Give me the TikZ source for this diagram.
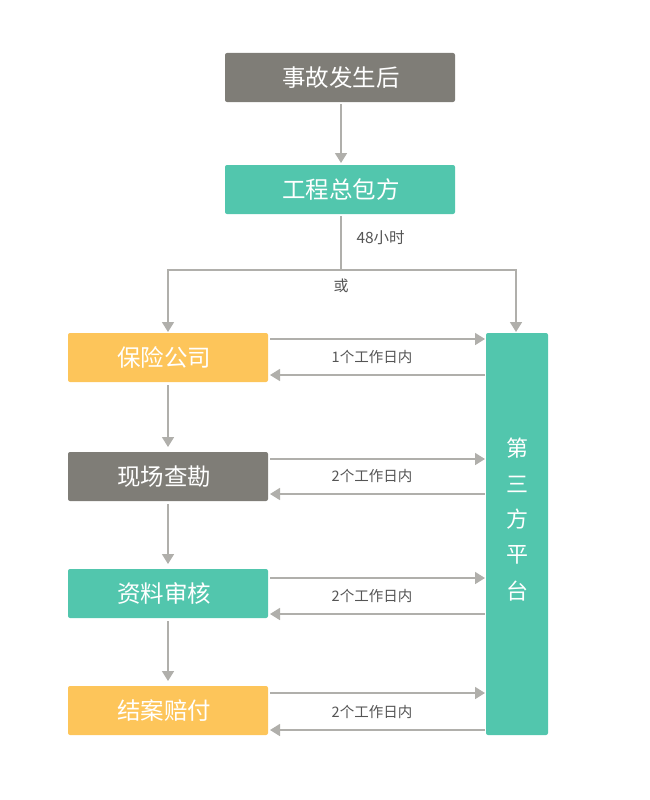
\documentclass[tikz,border=0pt]{standalone}
\usepackage{fontspec}
\setmainfont{Noto Sans CJK SC}
\usetikzlibrary{arrows.meta}
\definecolor{boxgray}{HTML}{7F7D77}
\definecolor{boxteal}{HTML}{52C6AD}
\definecolor{boxyellow}{HTML}{FDC55A}
\definecolor{linegray}{HTML}{B0AFAB}
\definecolor{labelgray}{HTML}{555555}
\begin{document}
\begin{tikzpicture}[x=1pt,y=-1pt,
  stepbox/.style={rounded corners=2pt, inner sep=0pt, text=white,
    font=\fontsize{23.5}{26}\selectfont},
  flow/.style={draw=linegray, line width=1.6pt,
    -{Triangle[width=12pt,length=10pt]}},
  plain/.style={draw=linegray, line width=1.6pt},
  tag/.style={text=labelgray, font=\fontsize{14.5}{16}\selectfont}]
\useasboundingbox (0,0) rectangle (650,800);

% main boxes
\fill[boxgray, rounded corners=2pt] (225,53) rectangle (455,102);
\node[stepbox] (start) at (341,77.5) {事故发生后};
\coordinate (startS) at (341,104);
\fill[boxteal, rounded corners=2pt] (225,165) rectangle (455,214);
\node[stepbox] (gc) at (341,189.5) {工程总包方};
\coordinate (gcN) at (341,163);
\coordinate (gcS) at (341,216);

\fill[boxyellow, rounded corners=2pt] (68,333) rectangle (268,382);
\node[stepbox] (ins) at (164,357.5) {保险公司};
\fill[boxgray, rounded corners=2pt] (68,452) rectangle (268,501);
\node[stepbox] (survey) at (164,476.5) {现场查勘};
\fill[boxteal, rounded corners=2pt] (68,569) rectangle (268,618);
\node[stepbox] (review) at (164,593.5) {资料审核};
\fill[boxyellow, rounded corners=2pt] (68,686) rectangle (268,735);
\node[stepbox] (pay) at (164,710.5) {结案赔付};

% third-party platform column, one character per line
\fill[boxteal, rounded corners=2pt] (486,333) rectangle (548,735);
\node[stepbox, font=\fontsize{22}{26}\selectfont] (tp1) at (517,448) {第};
\node[stepbox, font=\fontsize{22}{26}\selectfont] (tp2) at (517,484) {三};
\node[stepbox, font=\fontsize{22}{26}\selectfont] (tp3) at (517,519) {方};
\node[stepbox, font=\fontsize{22}{26}\selectfont] (tp4) at (517,555) {平};
\node[stepbox, font=\fontsize{22}{26}\selectfont] (tp5) at (517,591) {台};

% top connectors
\draw[flow] (startS) -- (gcN);
\coordinate (fork) at (341,270);
\draw[plain] (gcS) -- (fork);
\draw[flow] (fork) -- (168,270) -- (168,332);
\draw[flow] (fork) -- (516,270) -- (516,332);
\node[tag, anchor=west, font=\fontsize{15.5}{17}\selectfont] (h48) at (353,238) {48小时};
\node[tag, font=\fontsize{15}{17}\selectfont] (or) at (341,286) {或};

% left column connectors
\draw[flow] (168,385) -- (168,447);
\draw[flow] (168,504) -- (168,564);
\draw[flow] (168,621) -- (168,681);

% exchanges with the platform
\foreach \yt/\yb/\yl/\txt in {339/375/357/1个工作日内, 459/494/476/2个工作日内,
    578/614/596/2个工作日内, 693/730/712/2个工作日内}{
  \draw[flow] (270,\yt) -- (485,\yt);
  \draw[flow] (485,\yb) -- (270,\yb);
  \node[tag] at (372,\yl) {\txt};
}
\end{tikzpicture}
\end{document}
